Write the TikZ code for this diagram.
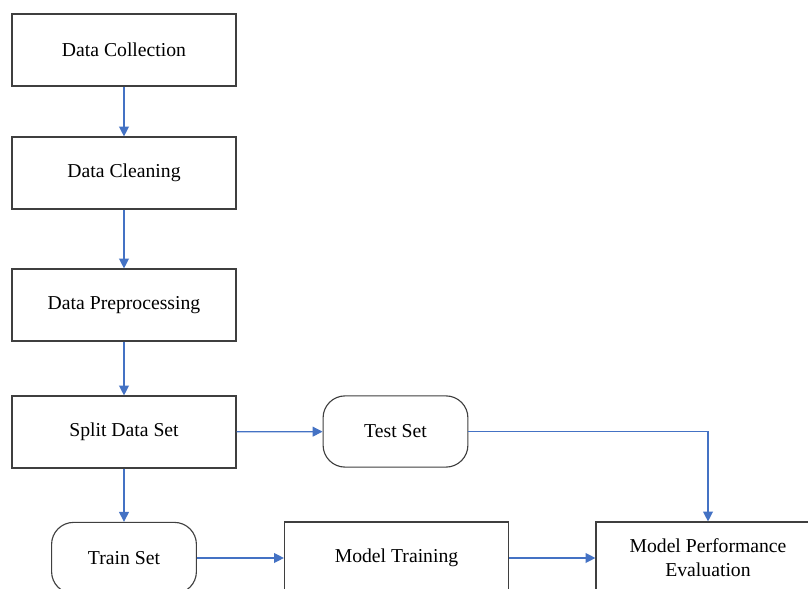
\documentclass[tikz,border=0pt]{standalone}
\usepackage{fontspec}
\setmainfont{Liberation Serif}
\usetikzlibrary{arrows.meta}

\definecolor{flowblue}{HTML}{4472C4}
\definecolor{boxgray}{HTML}{3F3F3F}

\tikzset{
    stagebox/.style={rectangle, draw=boxgray, line width=0.8pt, minimum width=5.6cm, minimum height=1.8cm, font=\fontsize{14}{17}\selectfont, align=center},
    setbox/.style={rectangle, rounded corners=0.55cm, draw=boxgray, line width=0.8pt, minimum width=3.62cm, minimum height=1.78cm, font=\fontsize{14}{17}\selectfont},
    flow/.style={draw=flowblue, line width=0.9pt, -{Triangle[width=7pt,length=7pt]}}
}

\begin{document}
\begin{tikzpicture}[x=0.025cm,y=-0.025cm]
            \useasboundingbox (0,0) rectangle (808,589);
            \clip (0,0) rectangle (808,589);

            % Nodi
            \foreach \name/\y/\label in {collect/50/Data Collection, clean/173/Data Cleaning, prep/305/Data Preprocessing, split/432/Split Data Set} {
                    \node[stagebox] (\name) at (124,\y) {\label};
                }
            \node[setbox] (test) at (395.5,431.5) {Test Set};
            \node[setbox] (train) at (124,558) {Train Set};
            \node[stagebox] (training) at (396.5,558) {Model Training};
            \node[stagebox] (eval) at (708,558) {Model Performance\\Evaluation};

            % Archi
            \foreach \a/\b in {collect/clean, clean/prep, prep/split, split/test, split/train, train/training, training/eval} {
                    \draw[flow] (\a) -- (\b);
                }
            \draw[flow] (test) -| (eval);
        \end{tikzpicture}
\end{document}
